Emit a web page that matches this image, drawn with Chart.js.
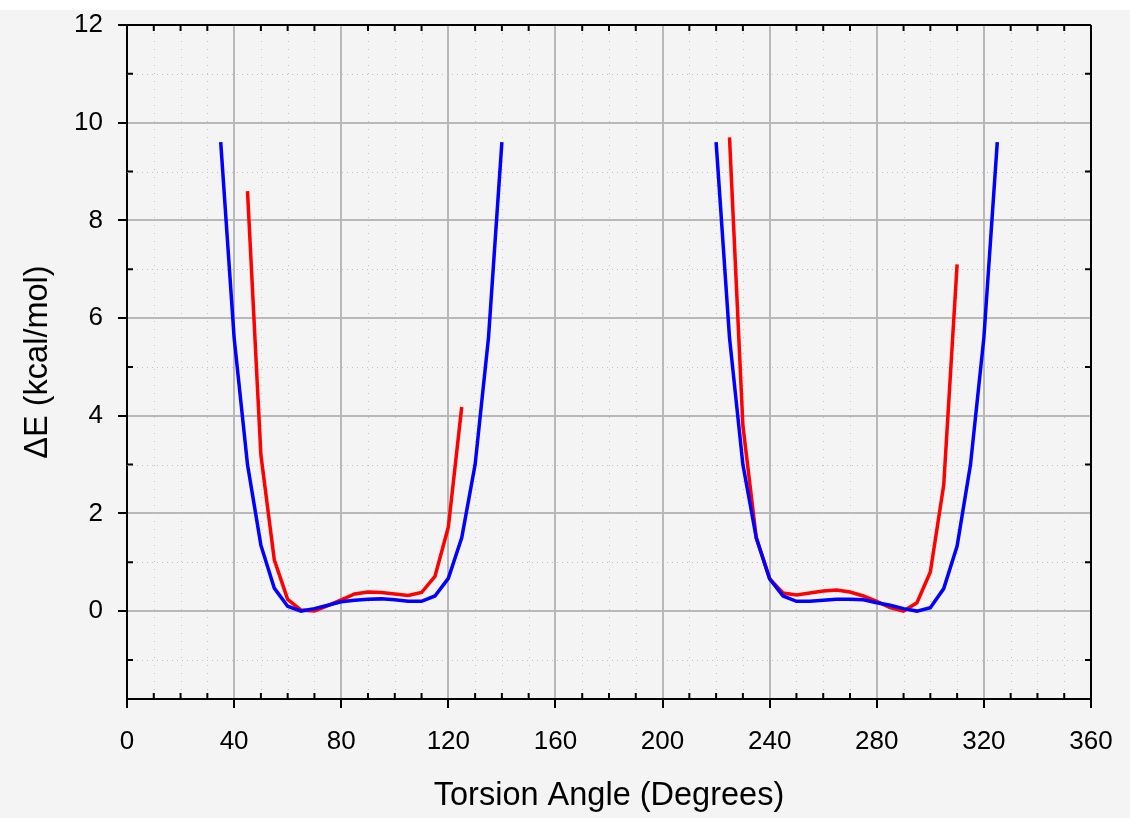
<!DOCTYPE html>
<html>
<head>
<meta charset="utf-8">
<script src="https://cdn.jsdelivr.net/npm/chart.js@4.4.1/dist/chart.umd.min.js"></script>
<style>
    html, body { margin: 0; padding: 0; background: #ffffff; }
    #wrap { position: absolute; left: 0; top: 0; width: 1130px; height: 818px; }
</style>
</head>
<body>
<div id="wrap"><canvas id="torsionChart"></canvas></div>
<script>
// torsion scan data (kcal/mol)
const blueLeftAngles = [35, 40, 45, 50, 55, 60, 65, 70, 75, 80, 85, 90, 95, 100, 105, 110, 115, 120, 125, 130, 135, 140];
const blueLeftEnergy = [9.6, 5.6, 3.0, 1.35, 0.47, 0.1, 0, 0.05, 0.12, 0.19, 0.22, 0.24, 0.25, 0.23, 0.2, 0.2, 0.31, 0.67, 1.5, 3.0, 5.6, 9.6];

const redLeftAngles = [45, 50, 55, 60, 65, 70, 75, 80, 85, 90, 95, 100, 105, 110, 115, 120, 125];
const redLeftEnergy = [8.6, 3.2, 1.05, 0.24, 0.02, 0, 0.11, 0.23, 0.35, 0.39, 0.38, 0.35, 0.32, 0.38, 0.71, 1.72, 4.18];

const blueRightAngles = [220, 225, 230, 235, 240, 245, 250, 255, 260, 265, 270, 275, 280, 285, 290, 295, 300, 305, 310, 315, 320, 325];
const blueRightEnergy = [9.6, 5.6, 3.0, 1.5, 0.66, 0.31, 0.2, 0.2, 0.22, 0.24, 0.24, 0.23, 0.17, 0.12, 0.05, 0, 0.07, 0.46, 1.33, 3.0, 5.6, 9.6];

const redRightAngles = [225, 230, 235, 240, 245, 250, 255, 260, 265, 270, 275, 280, 285, 290, 295, 300, 305, 310];
const redRightEnergy = [9.7, 3.8, 1.5, 0.66, 0.37, 0.33, 0.37, 0.41, 0.43, 0.39, 0.31, 0.2, 0.07, 0, 0.17, 0.8, 2.58, 7.1];

const xTicks = [0, 40, 80, 120, 160, 200, 240, 280, 320, 360];
const yTicks = [0, 2, 4, 6, 8, 10, 12];
const xMinorTicks = [10, 20, 30, 50, 60, 70, 90, 100, 110, 130, 140, 150, 170, 180, 190, 210, 220, 230, 250, 260, 270, 290, 300, 310, 330, 340, 350];
const yMinorTicks = [-1, 1, 3, 5, 7, 9, 11];

const FONT = "'Liberation Sans', Arial, sans-serif";

function toPoints(xs, ys) {
    return xs.map((x, i) => ({ x: x, y: ys[i] }));
}

function lineSet(xs, ys, color) {
    return {
        data: toPoints(xs, ys),
        borderColor: color,
        backgroundColor: color,
        borderWidth: 3.5,
        pointRadius: 0,
        tension: 0,
        fill: false
    };
}

// page background, dotted minor grid, frame and minor ticks
const framePlugin = {
    id: 'frame',
    beforeDraw(chart) {
        const ctx = chart.ctx;
        ctx.save();
        ctx.fillStyle = '#ffffff';
        ctx.fillRect(0, 0, chart.width, chart.height);
        ctx.fillStyle = '#f4f4f4';
        ctx.fillRect(0, 10, chart.width, chart.height - 10);
        ctx.restore();
    },
    beforeDatasetsDraw(chart) {
        const ctx = chart.ctx;
        const a = chart.chartArea;
        const xs = chart.scales.x, ys = chart.scales.y;
        ctx.save();
        ctx.strokeStyle = '#c2c2c2';
        ctx.lineWidth = 1;
        ctx.setLineDash([1, 7]);
        xMinorTicks.forEach(v => {
            const px = Math.round(xs.getPixelForValue(v)) + 0.5;
            ctx.beginPath(); ctx.moveTo(px, a.top); ctx.lineTo(px, a.bottom); ctx.stroke();
        });
        ctx.setLineDash([1, 4]);
        yMinorTicks.forEach(v => {
            const py = Math.round(ys.getPixelForValue(v)) + 0.5;
            ctx.beginPath(); ctx.moveTo(a.left, py); ctx.lineTo(a.right, py); ctx.stroke();
        });
        ctx.restore();
    },
    afterDraw(chart) {
        const ctx = chart.ctx;
        const a = chart.chartArea;
        const xs = chart.scales.x, ys = chart.scales.y;
        ctx.save();
        ctx.strokeStyle = '#000000';
        ctx.lineWidth = 2;
        ctx.beginPath();
        ctx.moveTo(a.left, a.top); ctx.lineTo(a.right, a.top);
        ctx.moveTo(a.right, a.top); ctx.lineTo(a.right, a.bottom);
        ctx.stroke();
        ctx.beginPath();
        xMinorTicks.forEach(v => {
            const px = xs.getPixelForValue(v);
            ctx.moveTo(px, a.bottom); ctx.lineTo(px, a.bottom - 6);
            ctx.moveTo(px, a.top); ctx.lineTo(px, a.top + 6);
        });
        yMinorTicks.forEach(v => {
            const py = ys.getPixelForValue(v);
            ctx.moveTo(a.left, py); ctx.lineTo(a.left + 6, py);
            ctx.moveTo(a.right, py); ctx.lineTo(a.right - 6, py);
        });
        ctx.stroke();
        ctx.restore();
    }
};

const ctx = document.getElementById('torsionChart').getContext('2d');
const torsionChart = new Chart(ctx, {
    type: 'line',
    data: {
        datasets: [
            lineSet(blueLeftAngles, blueLeftEnergy, '#0000ff'),
            lineSet(blueRightAngles, blueRightEnergy, '#0000ff'),
            lineSet(redLeftAngles, redLeftEnergy, '#ff0000'),
            lineSet(redRightAngles, redRightEnergy, '#ff0000')
        ]
    },
    options: {
        responsive: true,
        maintainAspectRatio: false,
        animation: false,
        layout: { padding: { left: 0, top: 25, right: 39, bottom: 0 } },
        plugins: { legend: { display: false }, tooltip: { enabled: false } },
        scales: {
            x: {
                type: 'linear',
                min: 0, max: 360,
                afterBuildTicks: s => { s.ticks = xTicks.map(v => ({ value: v })); },
                afterFit: s => { s.height = 119; s.paddingLeft = 0; s.paddingRight = 0; },
                grid: { color: '#b8b8b8', lineWidth: 2, tickColor: '#000000', tickWidth: 2, tickLength: 9 },
                border: { color: '#000000', width: 2 },
                ticks: { color: '#000000', font: { family: FONT, size: 26 }, padding: 18, maxRotation: 0, autoSkip: false },
                title: {
                    display: true, text: 'Torsion Angle (Degrees)', color: '#000000',
                    font: { family: FONT, size: 32.5, lineHeight: 1.2 }, padding: { top: 0, bottom: 2 }
                }
            },
            y: {
                type: 'linear',
                min: -1.8, max: 12,
                afterBuildTicks: s => { s.ticks = yTicks.map(v => ({ value: v })); },
                afterFit: s => { s.width = 127; s.paddingTop = 0; s.paddingBottom = 0; },
                grid: { color: '#b8b8b8', lineWidth: 2, tickColor: '#000000', tickWidth: 2, tickLength: 9 },
                border: { color: '#000000', width: 2 },
                ticks: { color: '#000000', font: { family: FONT, size: 26 }, padding: 15, autoSkip: false },
                title: {
                    display: true, text: 'ΔE (kcal/mol)', color: '#000000',
                    font: { family: FONT, size: 32.5, lineHeight: 1.2 }, padding: { top: 19, bottom: 0 }
                }
            }
        }
    },
    plugins: [framePlugin]
});
</script>
</body>
</html>
